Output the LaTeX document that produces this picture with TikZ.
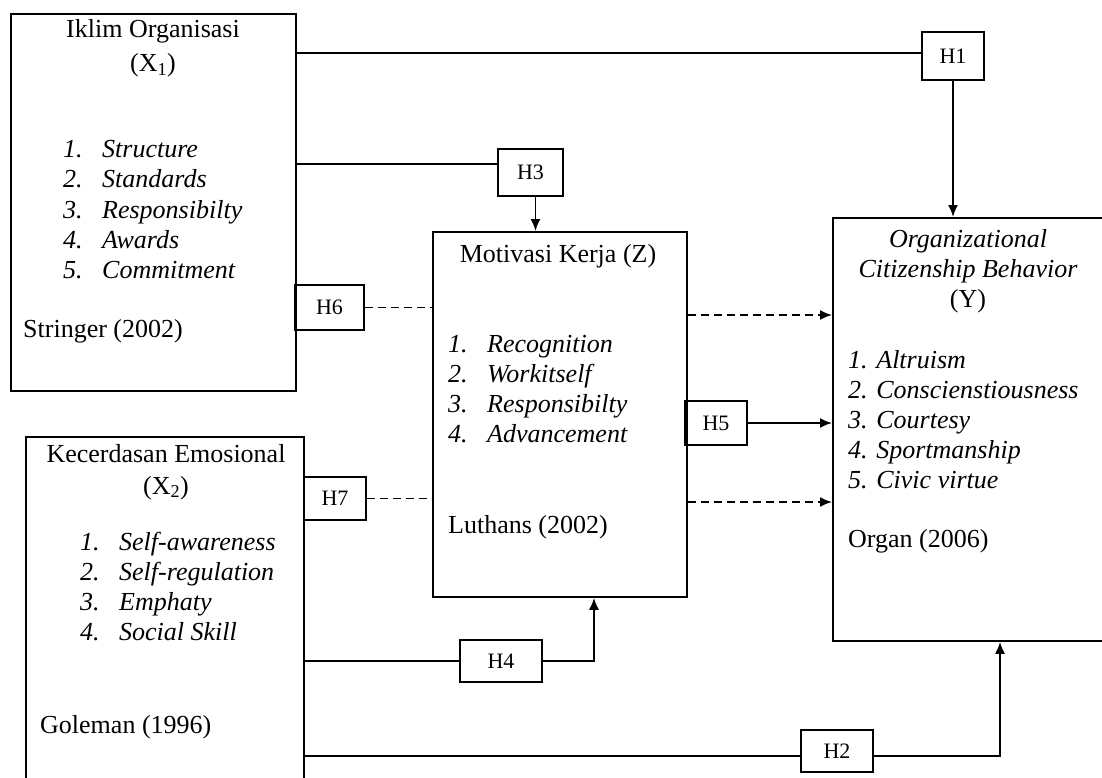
\documentclass[tikz,border=0pt]{standalone}
\usepackage{fontspec}
\setmainfont{Liberation Serif}
\usetikzlibrary{arrows.meta}
\newcommand{\indik}[2]{\makebox[39pt][l]{\textit{#1.}}\textit{#2}}

\begin{document}
\begin{tikzpicture}[x=1pt, y=-1pt, >={Latex[length=12pt,width=10pt]},
    varbox/.style={rectangle, draw, line width=1.8pt, inner sep=0pt, anchor=north west},
    hbox/.style={rectangle, draw, line width=1.8pt, minimum width=63pt, minimum height=45pt, font=\fontsize{22}{26}\selectfont},
    txt/.style={inner sep=0pt, font=\fontsize{26}{30}\selectfont},
    link/.style={line width=1.8pt},
    dashlink/.style={line width=1.8pt, dash pattern=on 8pt off 5pt}]
  \useasboundingbox (0,0) rectangle (1102,778);
  \clip (0,0) rectangle (1102,778);

  % variable boxes
  \node (iklim) [varbox, minimum width=285pt, minimum height=377pt] at (10,13) {};
  \node (emosi) [varbox, minimum width=278pt, minimum height=370pt] at (25,436) {};
  \node (motivasi) [varbox, minimum width=254pt, minimum height=365pt] at (432,231) {};
  \node (ocb) [varbox, minimum width=280pt, minimum height=423pt] at (832,217) {};

  % X1
  \node (iklimtitle) [txt, anchor=base] at (153,38) {\begin{tabular}[t]{@{}c@{}}Iklim Organisasi\\[4pt](X\textsubscript{1})\end{tabular}};
  \node (iklimlist) [txt, anchor=base west] at (63,158) {\begin{tabular}[t]{@{}l@{}}
      \indik{1}{Structure}\\ \indik{2}{Standards}\\ \indik{3}{Responsibilty}\\
      \indik{4}{Awards}\\ \indik{5}{Commitment}\end{tabular}};
  \node (iklimsrc) [txt, anchor=base west] at (23,337) {Stringer (2002)};

  % X2
  \node (emosititle) [txt, anchor=base] at (166,462) {\begin{tabular}[t]{@{}c@{}}Kecerdasan Emosional\\[2pt](X\textsubscript{2})\end{tabular}};
  \node (emosilist) [txt, anchor=base west] at (80,550) {\begin{tabular}[t]{@{}l@{}}
      \indik{1}{Self-awareness}\\ \indik{2}{Self-regulation}\\ \indik{3}{Emphaty}\\
      \indik{4}{Social Skill}\end{tabular}};
  \node (emosisrc) [txt, anchor=base west] at (40,733) {Goleman (1996)};

  % Z
  \node (motivasititle) [txt, anchor=base] at (558,262) {Motivasi Kerja (Z)};
  \node (motivasilist) [txt, anchor=base west] at (448,352) {\begin{tabular}[t]{@{}l@{}}
      \indik{1}{Recognition}\\ \indik{2}{Workitself}\\ \indik{3}{Responsibilty}\\
      \indik{4}{Advancement}\end{tabular}};
  \node (motivasisrc) [txt, anchor=base west] at (448,533) {Luthans (2002)};

  % Y
  \node (ocbtitle) [txt, anchor=base] at (968,247) {\begin{tabular}[t]{@{}c@{}}\textit{Organizational}\\
      \textit{Citizenship Behavior}\\ (Y)\end{tabular}};
  \node (ocblist) [txt, anchor=base west] at (848,368) {\begin{tabular}[t]{@{}l@{}}
      \textit{1. Altruism}\\ \textit{2. Conscienstiousness}\\ \textit{3. Courtesy}\\
      \textit{4. Sportmanship}\\ \textit{5. Civic virtue}\end{tabular}};
  \node (ocbsrc) [txt, anchor=base west] at (848,547) {Organ (2006)};

  % hypotheses
  \node (h1) [hbox, minimum width=62pt, minimum height=48pt] at (953,56) {H1};
  \node (h3) [hbox, minimum width=65pt, minimum height=47pt] at (530.5,172.5) {H3};
  \node (h6) [hbox, minimum width=69pt] at (329.5,307.5) {H6};
  \node (h7) [hbox, minimum width=62pt, minimum height=43pt] at (335,498.5) {H7};
  \node (h5) [hbox, minimum width=62pt, minimum height=44pt] at (716,423) {H5};
  \node (h4) [hbox, minimum width=82pt, minimum height=42pt] at (501,661) {H4};
  \node (h2) [hbox, minimum width=72pt, minimum height=42pt] at (837,751) {H2};

  \draw [link] ([yshift=3pt]h1.west -| iklim.east) -- ([yshift=3pt]h1.west);
  \draw [link, ->] (h1.south) -- (h1.south |- ocb.north);
  \draw [link] ([yshift=8.5pt]h3.west -| iklim.east) -- ([yshift=8.5pt]h3.west);
  \draw [link, ->] ([xshift=5pt]h3.south) -- ([xshift=5pt]h3.south |- motivasi.north);
  \draw [dashlink] (h6.east) -- (h6.east -| motivasi.west);
  \draw [dashlink, ->] ([yshift=-7.5pt]h6.east -| motivasi.east) -- ([yshift=-7.5pt]h6.east -| ocb.west);
  \draw [dashlink] (h7.east) -- (h7.east -| motivasi.west);
  \draw [dashlink, ->] ([yshift=-3.5pt]h7.east -| motivasi.east) -- ([yshift=-3.5pt]h7.east -| ocb.west);
  \draw [link, ->] (h5.east) -- (h5.east -| ocb.west);
  \draw [link] (h4.west -| emosi.east) -- (h4.west);
  \draw [link, ->] (h4.east) -| ([xshift=162pt]motivasi.south west);
  \draw [link] ([yshift=-5pt]h2.west -| emosi.east) -- ([yshift=-5pt]h2.west);
  \draw [link, ->] ([yshift=-5pt]h2.east) -| ([xshift=168pt]ocb.south west);
\end{tikzpicture}
\end{document}
